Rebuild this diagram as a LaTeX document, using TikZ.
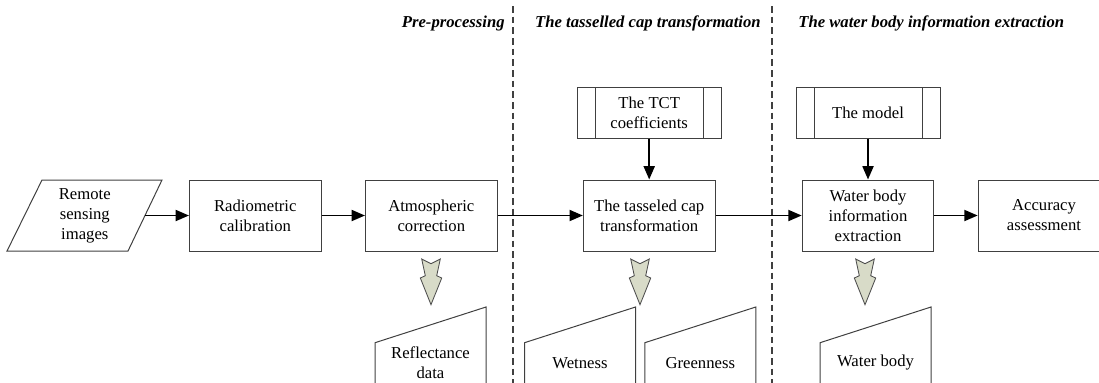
\documentclass[tikz,border=0pt]{standalone}
\usepackage{fontspec}
\setmainfont{Liberation Serif}
\usetikzlibrary{arrows.meta}
\begin{document}
\begin{tikzpicture}[x=0.6pt,y=-0.6pt,
  box/.style={draw=black!75,line width=0.6pt,minimum width=79pt,minimum height=42.6pt,align=center,inner sep=0pt},
  predef/.style={box,minimum width=86.4pt,minimum height=30.2pt,
    path picture={\draw[black!75,line width=0.6pt]
      ([xshift=10.8pt]path picture bounding box.north west) -- ([xshift=10.8pt]path picture bounding box.south west)
      ([xshift=-10.8pt]path picture bounding box.north east) -- ([xshift=-10.8pt]path picture bounding box.south east);}},
  txt/.style={align=center,inner sep=0pt},
  lbl/.style={font=\bfseries\itshape,inner sep=0pt},
  outline/.style={draw=black!75,line width=0.6pt},
  flow/.style={-{Triangle[length=8pt,width=6.6pt]},line width=1.1pt},
  divider/.style={draw=black!75,line width=0.8pt,dash pattern=on 4pt off 2.4pt},
  grayarr/.style={fill={rgb,255:red,216;green,219;blue,200},draw=black!70,line width=0.5pt}]
\useasboundingbox (0,0) rectangle (1099,382);

% stage titles and dividers
\node[lbl,anchor=base east] (pre) at (505,27) {Pre-processing};
\node[lbl,anchor=base east] (tc) at (761,27) {The tasselled cap transformation};
\node[lbl,anchor=base west] (we) at (798,27) {The water body information extraction};
\draw[divider] (513,6) -- (513,384);
\draw[divider] (772,6) -- (772,384);

% input
\draw[outline] (7,251) -- (42,180) -- (162,180) -- (128,251) -- cycle;
\node[txt] (rsi) at (84.8,215.5) {Remote\\sensing\\images};
\coordinate (rsiout) at (145,215.5);

% main chain
\node[box] (rad) at (255.3,215.5) {Radiometric\\calibration};
\node[box] (atm) at (431.3,215.5) {Atmospheric\\correction};
\node[box] (tct) at (649.2,215.5) {The tasseled cap\\transformation};
\node[box] (wbe) at (868,215.5) {Water body\\information\\extraction};
\node[box] (acc) at (1044,215.5) {Accuracy\\assessment};
\node[predef] (coef) at (649.2,112.9) {The TCT\\coefficients};
\node[predef] (model) at (868,112.9) {The model};

\draw[flow] (rsiout) -- (rad);
\draw[flow] (rad) -- (atm);
\draw[flow] (atm) -- (tct);
\draw[flow] (tct) -- (wbe);
\draw[flow] (wbe) -- (acc);
\draw[flow] (coef) -- (tct);
\draw[flow] (model) -- (wbe);

% outputs
\foreach \x in {431,640,865}
  \draw[grayarr,shift={(\x,259)}] (-9.3,0) -- (0,4.7) -- (9.3,0) -- (5.7,16.7) -- (10.7,19)
    -- (0,45.7) -- (-10.7,19) -- (-5.7,16.7) -- cycle;
\draw[outline] (375,384) -- (375,342.7) -- (486,307) -- (486,384);
\node[txt] (refl) at (430.5,363) {Reflectance\\data};
\draw[outline] (524.5,384) -- (524.5,342.7) -- (635.5,307) -- (635.5,384);
\node[txt] (wet) at (580,363) {Wetness};
\draw[outline] (644.8,384) -- (644.8,342.7) -- (755.8,307) -- (755.8,384);
\node[txt] (green) at (700.3,363) {Greenness};
\draw[outline] (820,384) -- (820,342.7) -- (931,307) -- (931,384);
\node[txt] (water) at (875.5,363) {Water body};
\end{tikzpicture}
\end{document}
